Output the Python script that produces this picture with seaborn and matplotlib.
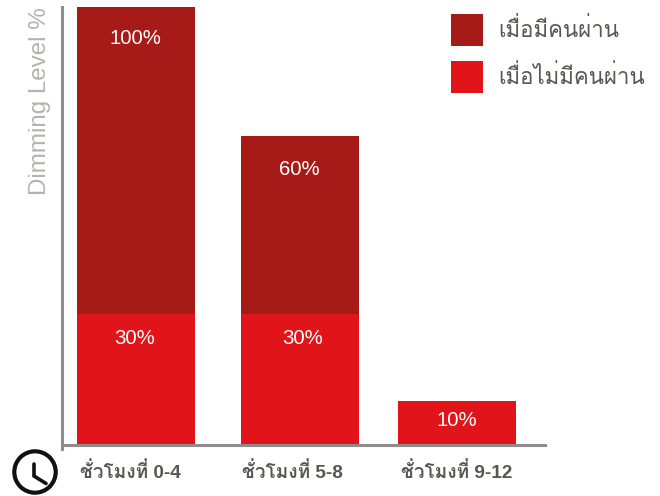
import matplotlib
matplotlib.use("Agg")
from matplotlib import pyplot as plt
from matplotlib.lines import Line2D
from matplotlib.patches import Circle, Patch
import pandas as pd
import seaborn as sns

hours = ["ชั่วโมงที่ 0-4", "ชั่วโมงที่ 5-8", "ชั่วโมงที่ 9-12"]
# bar heights as drawn in the picture (they do not follow the printed labels)
total_height = [100, 70.5, 10]
empty_height = [30, 30, 10]
occupied_labels = ["100%", "60%", None]
empty_labels = ["30%", "30%", "10%"]
legend_names = ["เมื่อมีคนผ่าน", "เมื่อไม่มีคนผ่าน"]
y_title = "Dimming Level %"

DARK = "#a61a18"
RED = "#e01419"
AXIS = "#908c8c"
TEXT = "#5a5752"
# Loma stacks the tone marks without text shaping, the other Thai fonts collide
FONTS = ["Liberation Sans", "Loma"]
W, H = 660, 496

sns.set_theme(style="white")
plt.rcParams["font.family"] = FONTS

df = pd.DataFrame({"hour": hours, "total": total_height, "empty": empty_height})

fig = plt.figure(figsize=(W / 100, H / 100), dpi=100)
ax = fig.add_axes([62 / W, 1 - 445 / H, (545 - 62) / W, (445 - 7) / H])

sns.barplot(data=df, x="hour", y="total", color=DARK, saturation=1, width=0.735,
            linewidth=0, ax=ax)
sns.barplot(data=df, x="hour", y="empty", color=RED, saturation=1, width=0.735,
            linewidth=0, ax=ax)

ax.set_xlim(-0.461, 2.549)
ax.set_ylim(0, 100)
ax.set_xlabel("")
ax.set_ylabel("")
ax.set_xticks([])
ax.set_yticks([])

# middle column sits a little right of the even spacing
px = (2.549 + 0.461) / (545 - 62)
for i in (1, 4):
    ax.patches[i].set_x(ax.patches[i].get_x() + 3.5 * px)

sns.despine(ax=ax)
for side in ("left", "bottom"):
    ax.spines[side].set_color(AXIS)
    ax.spines[side].set_linewidth(2.2)
ax.spines["left"].set_bounds(-0.9, 100)

n = len(hours)
for i, label in enumerate(occupied_labels):
    if label:
        bar = ax.patches[i]
        ax.annotate(label, (bar.get_x() + bar.get_width() / 2, bar.get_height()),
                    xytext=(-1, -31 if i == 0 else -33), textcoords="offset pixels",
                    ha="center", va="center", color="white", fontsize=14.7)
for i, label in enumerate(empty_labels):
    bar = ax.patches[n + i]
    ax.annotate(label, (bar.get_x() + bar.get_width() / 2, bar.get_height()),
                xytext=(-1 if i == 0 else 3 if i == 1 else 0, -25 if i < 2 else -19),
                textcoords="offset pixels",
                ha="center", va="center", color="white", fontsize=14.7)

for label, x in zip(hours, [130, 292, 457]):
    fig.text(x / W, 1 - 472 / H, label, ha="center", va="center", color=TEXT,
             fontsize=13.7, fontweight=600)

fig.text(40 / W, 1 - 101 / H, y_title, rotation=90, ha="center", va="center",
         color="#b5b3b1", fontsize=17.4)

handles = [Patch(color=DARK, lw=0), Patch(color=RED, lw=0)]
leg = fig.legend(handles, legend_names, loc="upper left",
                 bbox_to_anchor=(451 / W, 1 - 14 / H), borderpad=0, borderaxespad=0,
                 frameon=False, fontsize=16, handlelength=1.44, handleheight=1.81,
                 handletextpad=0.68, labelspacing=0.70, labelcolor=TEXT)

# clock icon left of the hour labels
cx, cy = 35, 472
fig.add_artist(Circle((cx, H - cy), 20.7, transform=None, fill=False, ec="#111111", lw=3))
fig.add_artist(Line2D([34, 34, 46], [H - 464, H - 476, H - 483.5], transform=None,
                      color="#111111", lw=2.6, solid_joinstyle="miter"))

fig.savefig("out.png", dpi=100)
